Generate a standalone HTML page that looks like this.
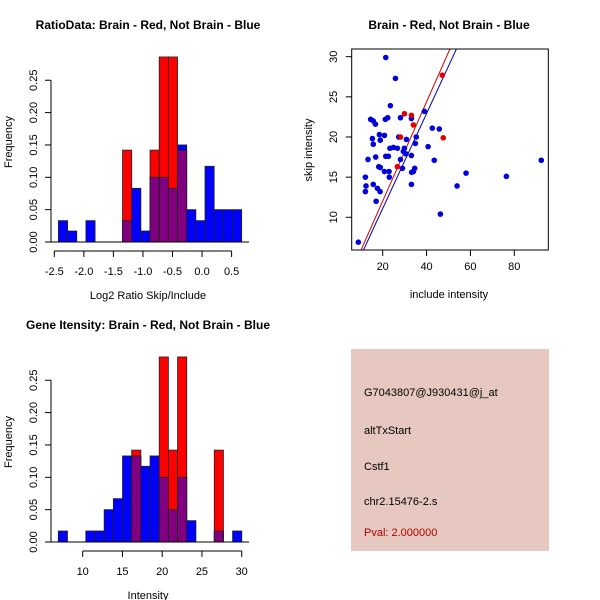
<!DOCTYPE html>
<html><head><meta charset="utf-8"><style>
body{margin:0;background:#fff}
svg{display:block;font-family:"Liberation Sans",sans-serif}
</style></head><body>
<svg id="s" width="600" height="600" viewBox="0 0 600 600" xmlns="http://www.w3.org/2000/svg">
<rect width="600" height="600" fill="#fff"/>
<text x="148" y="29" font-size="12" font-weight="bold" text-anchor="middle">RatioData: Brain - Red, Not Brain - Blue</text>
<text x="449" y="29" font-size="12" font-weight="bold" text-anchor="middle">Brain - Red, Not Brain - Blue</text>
<text x="148" y="329" font-size="12" font-weight="bold" text-anchor="middle">Gene Itensity: Brain - Red, Not Brain - Blue</text>
<rect x="351" y="349" width="198" height="202" fill="#e6c8c0"/>
<g font-size="11">
<text x="364" y="396">G7043807@J930431@j_at</text>
<text x="364" y="434">altTxStart</text>
<text x="364" y="470">Cstf1</text>
<text x="364" y="505">chr2.15476-2.s</text>
<text x="364" y="536" fill="#b00000">Pval: 2.000000</text>
</g>
</svg>
<script>
// Ratio histogram data
const ratioBinStart = -2.43, ratioBinWidth = 0.155;
const ratioBlue = [0.033,0.017,0,0.033,0,0,0,0.033,0.083,0.017,0.1,0.1,0.083,0.15,0.05,0.033,0.117,0.05,0.05,0.05];
const ratioRed  = [0,0,0,0,0,0,0,0.142,0,0,0.142,0.286,0.286,0.142,0,0,0,0,0,0];
const ratioXTicks = [-2.5,-2.0,-1.5,-1.0,-0.5,0.0,0.5];
const ratioXLabels = ["-2.5","-2.0","-1.5","-1.0","-0.5","0.0","0.5"];
// Intensity histogram data
const intBinStart = 6.93, intBinWidth = 1.154;
const intBlue = [0.017,0,0,0.017,0.017,0.05,0.067,0.133,0.133,0.117,0.133,0.1,0.05,0.1,0.033,0,0,0.017,0,0.017];
const intRed  = [0,0,0,0,0,0,0,0,0.142,0,0,0.286,0.142,0.286,0,0,0,0.142,0,0];
const intXTicks = [10,15,20,25,30];
const yTicks = [0,0.05,0.10,0.15,0.20,0.25];
const yLabels = ["0.00","0.05","0.10","0.15","0.20","0.25"];
// Scatter data
const blueX = [8.9,21.4,25.8,23.5,14.5,15.7,16.7,21.2,22.3,28.1,33.1,39.0,42.6,45.8,15.3,18.5,20.8,27.3,30.8,35.3,18.9,15.7,34.9,40.7,16.8,13.3,21.4,22.6,23.3,24.9,26.7,28.1,29.4,29.9,30.6,33.1,43.5,18.2,18.9,20.8,22.9,29.0,33.2,34.0,34.6,12.1,23.0,15.7,33.1,17.6,18.8,12.4,12.1,17.0,53.9,58.0,76.4,92.3,46.3];
const blueY = [6.9,29.9,27.3,23.9,22.2,22.0,21.6,22.2,22.4,22.4,22.3,23.2,21.1,21.0,19.8,20.3,20.2,20.0,19.7,20.0,19.6,19.1,19.2,18.8,17.5,17.2,17.6,17.6,18.6,18.7,18.6,17.2,18.2,18.6,17.9,17.7,17.1,16.3,16.2,15.7,15.7,16.1,15.6,15.7,16.1,15.0,15.0,14.1,14.1,13.6,13.2,13.9,13.2,12.0,13.9,15.5,15.1,17.1,10.4];
const redX = [29.9,33.1,34.0,47.2,47.6,28.1,26.7];
const redY = [22.9,22.7,21.5,27.7,19.9,20.0,16.3];
const fitSlope = [0.618,0.591];      // red, blue
const fitIntercept = [-0.34,-0.72];
const scXTicks = [20,40,60,80];
const scYTicks = [10,15,20,25,30];

const NS = "http://www.w3.org/2000/svg";
const svg = document.getElementById('s');
function mk(tag, attrs, parent){const e=document.createElementNS(NS,tag);for(const k in attrs)e.setAttribute(k,attrs[k]);(parent||svg).appendChild(e);return e;}

function histogram(prefix, top, binStart, binW, blue, red, xTicks, xLabels, x0px, pxPerUnit, xlab){
  const base = top + 242 - 40, yPer = 32.35/0.05;
  const X = v => x0px + (v - xTicks[0]) * pxPerUnit;
  const Y = v => base - v * yPer;
  const g = mk('g', {});
  
  
  for (let i=0;i<blue.length;i++){
    const xa = X(binStart + i*binW), xb = X(binStart + (i+1)*binW);
    const b = blue[i], r = red[i];
    if (b>0){ const e = mk('rect',{x:xa,y:Y(b),width:xb-xa,height:base-Y(b),fill:'#0000ff',stroke:'#202020','stroke-width':0.8},g);
      
       }
    if (r>0){ const e = mk('rect',{x:xa,y:Y(r),width:xb-xa,height:base-Y(r),fill:'#ff0000',stroke:'#202020','stroke-width':0.8},g);
      
       }
    const m = Math.min(b,r);
    if (m>0){ const e = mk('rect',{x:xa,y:Y(m),width:xb-xa,height:base-Y(m),fill:'#800080',stroke:'#202020','stroke-width':0.8},g);
      
       }
  }
  mk('line',{x1:51,x2:249,y1:base,y2:base,stroke:'#000'},g);
  const ya = mk('g',{},g);
  
  
  mk('line',{x1:51,x2:51,y1:Y(0),y2:Y(0.25),stroke:'#000'},ya);
  yTicks.forEach((t,i)=>{
    mk('line',{x1:45,x2:51,y1:Y(t),y2:Y(t),stroke:'#000'},ya);
    const tx = mk('text',{x:0,y:0,'font-size':11,'text-anchor':'middle',transform:`translate(37,${Y(t)}) rotate(-90)`},ya);
    tx.textContent = yLabels[i];
  });
  const yt = mk('text',{x:0,y:0,'font-size':11,'text-anchor':'middle',transform:`translate(12,${base-100}) rotate(-90)`},g);
  yt.textContent = 'Frequency';
  
  
  const xa = mk('g',{},g);
  
  
  const ay = base + 9;
  mk('line',{x1:X(xTicks[0]),x2:X(xTicks[xTicks.length-1]),y1:ay,y2:ay,stroke:'#000'},xa);
  xTicks.forEach((t,i)=>{
    mk('line',{x1:X(t),x2:X(t),y1:ay,y2:ay+6,stroke:'#000'},xa);
    const tx = mk('text',{x:X(t),y:ay+24,'font-size':11,'text-anchor':'middle'},xa);
    tx.textContent = xLabels[i];
  });
  const xt = mk('text',{x:148,y:base+57,'font-size':11,'text-anchor':'middle'},g);
  xt.textContent = xlab;
  
  
}
histogram('ratio', 40, ratioBinStart, ratioBinWidth, ratioBlue, ratioRed, ratioXTicks, ratioXLabels, 54.3, 59.1, 'Log2 Ratio Skip/Include');
histogram('intensity', 340, intBinStart, intBinWidth, intBlue, intRed, intXTicks, intXTicks.map(String), 82.7, 7.95, 'Intensity');

(function(){
  const L=351.7,R=548.3,T=49,B=250;
  const SX = v => 382.7 + (v-20)*(131.6/60);
  const SY = v => 56.7 + (30-v)*(160.6/20);
  const g = mk('g',{});
  
  
  const cp = mk('clipPath',{id:'cp'},g); mk('rect',{x:L,y:T,width:R-L,height:B-T},cp);
  const lc = ['#d00000','#0000a0'];
  for (let k=0;k<2;k++){
    const x1=5,x2=100;
    const ln = mk('line',{x1:SX(x1),y1:SY(fitIntercept[k]+fitSlope[k]*x1),x2:SX(x2),y2:SY(fitIntercept[k]+fitSlope[k]*x2),stroke:lc[k],'stroke-width':1,'clip-path':'url(#cp)'},g);
    
    
  }
  blueX.forEach((x,i)=>{
    const c = mk('circle',{cx:SX(x),cy:SY(blueY[i]),r:2.8,fill:'#0000dd'},g);
    
    
  });
  redX.forEach((x,i)=>{
    const c = mk('circle',{cx:SX(x),cy:SY(redY[i]),r:2.8,fill:'#e00000'},g);
    
    
  });
  mk('rect',{x:L,y:T,width:R-L,height:B-T,fill:'none',stroke:'#000'},g);
  const xa = mk('g',{},g);
  
  
  scXTicks.forEach(t=>{
    mk('line',{x1:SX(t),x2:SX(t),y1:B,y2:B+6,stroke:'#000'},xa);
    const tx = mk('text',{x:SX(t),y:B+20,'font-size':11,'text-anchor':'middle'},xa); tx.textContent=t;
  });
  const ya = mk('g',{},g);
  
  
  scYTicks.forEach(t=>{
    mk('line',{x1:L-6,x2:L,y1:SY(t),y2:SY(t),stroke:'#000'},ya);
    const tx = mk('text',{x:0,y:0,'font-size':11,'text-anchor':'middle',transform:`translate(337,${SY(t)}) rotate(-90)`},ya); tx.textContent=t;
  });
  const xt = mk('text',{x:449,y:298,'font-size':11,'text-anchor':'middle'},g);
  xt.textContent='include intensity';
  
  
  const yt = mk('text',{x:0,y:0,'font-size':11,'text-anchor':'middle',transform:'translate(312,150) rotate(-90)'},g);
  yt.textContent='skip intensity';
  
  
})();
</script>
</body></html>
